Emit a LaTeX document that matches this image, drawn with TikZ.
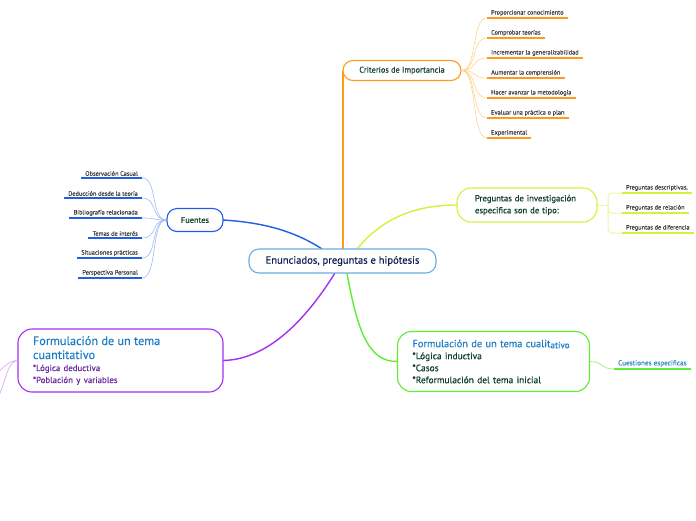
\documentclass[tikz,border=0pt]{standalone}
\usepackage{fontspec}
\setmainfont{PT Sans}[FakeBold=0.35]
\newfontfamily\itemfont{PT Sans}[FakeBold=0.1]
\usetikzlibrary{calc}
\definecolor{cblue}{HTML}{6AAEE0}
\definecolor{navy}{HTML}{0D2050}
\definecolor{dgreen}{HTML}{0F3D2E}
\definecolor{itemtxt}{HTML}{3A3A3A}
\definecolor{headblue}{HTML}{1F7EC4}
\definecolor{ptxt}{HTML}{6B2A9E}
\definecolor{fblue}{HTML}{1F5EE6}
\definecolor{fbluel}{HTML}{9DBAF7}
\definecolor{orng}{HTML}{FF9A1A}
\definecolor{orngl}{HTML}{FFD28F}
\definecolor{ygr}{HTML}{D2F23C}
\definecolor{ygrl}{HTML}{EAF8A8}
\definecolor{purp}{HTML}{A52EF2}
\definecolor{purpl}{HTML}{DDB0F9}
\definecolor{grn}{HTML}{5FEE33}
\definecolor{grnl}{HTML}{A8F58E}
\definecolor{qblue}{HTML}{2A8AC0}
\tikzset{
  box/.style={draw, rounded corners=10pt, line width=1.1pt, fill=white, inner sep=2pt},
  main/.style={line width=1.4pt},
  fan/.style={line width=0.6pt},
  uline/.style={line width=1.5pt},
  itm/.style={font=\itemfont\fontsize{6.3}{7}\selectfont, text=itemtxt, inner xsep=4pt, inner ysep=2pt}
}
\begin{document}
\begin{tikzpicture}[x=1pt,y=-1pt]
\useasboundingbox[fill=white] (0,0) rectangle (696,520);

\coordinate (cB) at (322,249);
\coordinate (cY) at (357,249);
\coordinate (cP) at (335,273);
\coordinate (cG) at (347,273);

% ---------- main connectors ----------
\coordinate (cN) at (343,255);
\draw[main, orng] (cN) -- (343,80) -- (343,70.5);
\draw[main, fblue] (cB) .. controls (290,228) and (255,222) .. (223,220);
\draw[main, ygr] (cY) .. controls (385,215) and (420,205) .. (457,205);
\draw[main, purp] (cP) .. controls (290,345) and (250,360) .. (223,360.5);
\draw[main, grn] (cG) .. controls (358,335) and (370,362) .. (397.5,361.5);

% ---------- boxes ----------
\node[box, draw=cblue, minimum width=187pt, minimum height=24pt, text=navy,
      font=\fontsize{10.6}{12}\selectfont] (c) at (342.5,261) {Enunciados, preguntas e hipótesis};
\node[box, draw=orng, minimum width=118pt, minimum height=20pt, text=dgreen,
      font=\fontsize{8.3}{9}\selectfont] (crit) at (402,70.5) {Criterios de Importancia};
\node[box, draw=fblue, minimum width=56pt, minimum height=23pt, text=dgreen,
      font=\fontsize{8.3}{9}\selectfont] (fue) at (195,220) {Fuentes};
\node[box, draw=ygr, rounded corners=14pt, minimum width=140pt, minimum height=34pt, text=dgreen,
      text width=104pt, align=left, inner xsep=18pt,
      font=\fontsize{8.7}{12}\selectfont] (preg) at (527,205) {Preguntas de investigación\\especifica son de tipo:};
\node[box, draw=purp, rounded corners=14pt, minimum width=205pt, minimum height=63pt, inner sep=0pt,
      text width=175pt] (cuan) at (120.5,360.5)
  {{\fontsize{12.2}{14}\selectfont\color{headblue}Formulación de un tema\\{}cuantitativo\par}%
   {\fontsize{8.8}{12}\selectfont\color{ptxt}*Lógica deductiva\\{}*Población y variables\par}};
\node[box, draw=grn, rounded corners=14pt, minimum width=192pt, minimum height=60pt, inner sep=0pt,
      text width=162pt] (cual) at (493.5,361.5)
  {{\fontsize{10.4}{12}\selectfont\color{headblue}Formulación de un tema cualit\raisebox{-1pt}{\fontsize{9}{9}\selectfont ativo}\par}%
   {\fontsize{9.4}{12}\selectfont\color{dgreen}*Lógica inductiva\\{}*Casos\\{}*Reformulación del tema inicial\par}};

% ---------- Criterios items ----------
\foreach \n/\y/\t in {1/18/Proporcionar conocimiento, 2/38/Comprobar teorías,
   3/58/Incrementar la generalizabilidad, 4/78/Aumentar la comprensión,
   5/98/Hacer avanzar la metodología, 6/118/Evaluar una práctica o plan, 7/138/Experimental}{
  \node[itm, anchor=south west] (k\n) at (487,\y) {\t};
  \draw[uline, orng] (k\n.south west) -- (k\n.south east);
  \draw[fan, orngl] (crit.east) .. controls +(16,0) and +(-16,0) .. (k\n.south west);
}

% ---------- Fuentes items ----------
\foreach \n/\y/\t in {1/178/Observación Casual, 2/198/Deducción desde la teoría,
   3/218/Bibliografía relacionada, 4/238/Temas de interés,
   5/258/Situaciones prácticas, 6/278/Perspectiva Personal}{
  \node[itm, anchor=south east] (f\n) at (142,\y) {\t};
  \draw[uline, fblue] (f\n.south west) -- (f\n.south east);
  \draw[fan, fbluel] (fue.west) .. controls +(-16,0) and +(16,0) .. (f\n.south east);
}

% ---------- Preguntas items ----------
\coordinate (pj) at (608,205);
\draw[line width=1pt, ygrl] (preg.east) -- (pj);
\foreach \n/\y/\t in {1/193/Preguntas descriptivas., 2/213/Preguntas de relación, 3/233/Preguntas de diferencia}{
  \node[itm, anchor=south west] (p\n) at (622,\y) {\t};
  \draw[line width=1pt, ygrl, rounded corners=4pt] (pj) |- (p\n.south west);
  \draw[uline, ygr] (p\n.south west) -- (p\n.south east);
}

% ---------- Cuestiones ----------
\node[itm, anchor=south west, text=qblue, font=\itemfont\fontsize{7.2}{8}\selectfont] (q) at (614,369) {Cuestiones especificas};
\draw[fan, grnl, line width=0.9pt] (cual.east) .. controls +(14,0) and +(-14,0) .. (q.south west);
\draw[uline, grn] (q.south west) -- (q.south east);

% ---------- left purple branches ----------
\coordinate (l1) at (-2,372);
\coordinate (l2) at (-2,398);
\draw[fan, purpl, line width=0.8pt] (cuan.west) .. controls (8,361) and (6,366) .. (l1);
\draw[fan, purpl, line width=0.8pt] (cuan.west) .. controls (8,361) and (6,380) .. (l2);
\end{tikzpicture}
\end{document}
